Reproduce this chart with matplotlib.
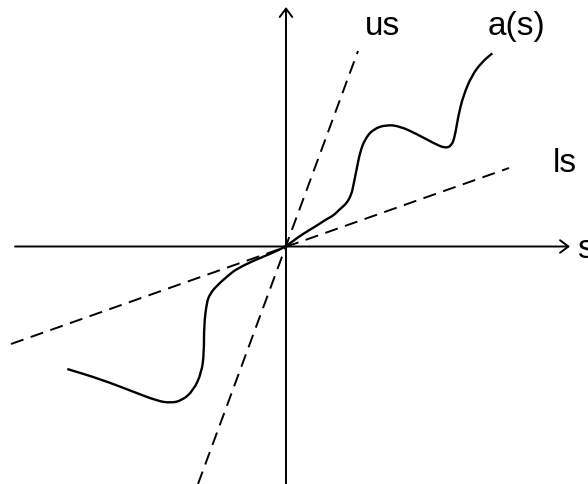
import matplotlib
matplotlib.use('Agg')
import matplotlib.pyplot as plt
from matplotlib.path import Path
from matplotlib.patches import PathPatch

plt.rcParams['font.family'] = ['Liberation Sans', 'DejaVu Sans']
plt.rcParams['lines.scale_dashes'] = False

# upper sector line us and lower sector line ls (end points)
us_s = [-88, 72]
us_a = [-237.5, 195.5]
ls_s = [-275, 223]
ls_a = [-97.5, 78.5]

# the nonlinearity a(s)
curve_s = [-218.7, -186, -152.7, -129.3, -116, -104.3, -92.7, -84.3, -82, -82,
           -79.3, -76, -69.3, -56, -49.3, -32.7, -16, 0, 14, 30.7, 40.7, 47.3,
           54, 61, 65.5, 67.3, 70.7, 74, 79, 87.3, 100.7, 114, 130.7, 147.3,
           159, 165.7, 169, 172.3, 177.3, 185.7, 195.7, 206.3]
curve_a = [-122.5, -132.5, -145.2, -154.2, -156.5, -154.2, -144.2, -125.8, -105.8, -79.2,
           -55.8, -47.5, -39.2, -27.5, -22.5, -14.2, -7.5, 0, 10.8, 20.8, 27.5, 30.8,
           37.5, 43.5, 52.5, 60.8, 77.5, 94.2, 107.5, 117.5, 121.8, 120.2, 112.5, 103.5,
           98.2, 100.8, 110.8, 130.8, 150.8, 170.8, 184.2, 193.2]

# axis extents
x_axis = (-271, 284)
y_axis = (-237.5, 239.5)

fig = plt.figure(figsize=(5.88, 4.85), dpi=100)
ax = fig.add_axes([0, 0, 1, 1])
ax.set_xlim(-286, 302)
ax.set_ylim(-237.5, 247.5)
ax.axis('off')

arrow = dict(arrowstyle='->,head_length=0.6,head_width=0.45', lw=1.4,
             color='black', shrinkA=0, shrinkB=0)
ax.annotate('', xy=(x_axis[1], 0), xytext=(x_axis[0], 0), arrowprops=arrow)
ax.annotate('', xy=(0, y_axis[1]), xytext=(0, y_axis[0]), arrowprops=arrow)

ax.plot(us_s, us_a, color='black', lw=1.4, linestyle=(0, (9.5, 5.5)))
ax.plot(ls_s, ls_a, color='black', lw=1.4, linestyle=(0, (9.5, 5.5)))

# draw a(s) as a smooth path: the read points act as quadratic control points
pts = list(zip(curve_s, curve_a))
verts = [pts[0], ((pts[0][0] + pts[1][0]) / 2, (pts[0][1] + pts[1][1]) / 2)]
codes = [Path.MOVETO, Path.LINETO]
for i in range(1, len(pts) - 1):
    mid = ((pts[i][0] + pts[i + 1][0]) / 2, (pts[i][1] + pts[i + 1][1]) / 2)
    verts += [pts[i], mid]
    codes += [Path.CURVE3, Path.CURVE3]
verts.append(pts[-1])
codes.append(Path.LINETO)
ax.add_patch(PathPatch(Path(verts, codes), fill=False, lw=1.7, edgecolor='black',
                       capstyle='butt', joinstyle='round'))

ax.text(79, 212.5, 'us', fontsize=24, va='baseline', ha='left')
ax.text(202, 212.5, 'a(s)', fontsize=24, va='baseline', ha='left')
ax.text(267, 75.5, 'ls', fontsize=24, va='baseline', ha='left')
ax.text(291, -10.5, 's', fontsize=24, va='baseline', ha='left', clip_on=False)

fig.savefig('out.png', dpi=100)
